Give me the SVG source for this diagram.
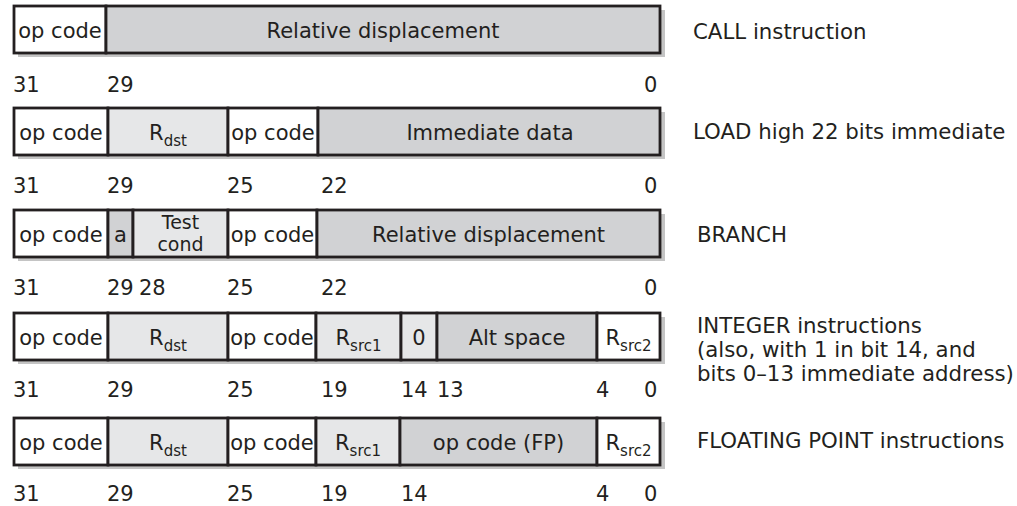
<svg xmlns="http://www.w3.org/2000/svg" width="1017" height="506" viewBox="0 0 1017 506">
<style>
  text { font-family: "DejaVu Sans", "Liberation Sans", sans-serif; fill: #231f20; }
  .lbl { font-size: 21px; text-anchor: middle; }
  .tc { font-size: 19px; text-anchor: middle; }
  .num { font-size: 21px; }
  .desc { font-size: 21.3px; }
  .sub { font-size: 15px; }
  .shadow { fill: #c4c4c4; }
  .f { stroke: #231f20; stroke-width: 2.8; }
  .w { fill: #ffffff; }
  .l { fill: #e6e7e8; }
  .m { fill: #d1d2d4; }
</style>
<rect width="1017" height="506" fill="#ffffff"/>

<g id="call">
  <rect class="shadow" x="18" y="10" width="647" height="47"/>
  <rect class="f w" x="14" y="6" width="92" height="47"/>
  <rect class="f m" x="106" y="6" width="554" height="47"/>
  <text class="lbl" x="60" y="38">op code</text>
  <text class="lbl" x="383" y="38">Relative displacement</text>
  <text class="num" x="13" y="92">31</text>
  <text class="num" x="107" y="92">29</text>
  <text class="num" x="644" y="92">0</text>
  <text class="desc" x="693" y="39">CALL instruction</text>
</g>

<g id="load">
  <rect class="shadow" x="18" y="112" width="647" height="47"/>
  <rect class="f w" x="14" y="108" width="94" height="47"/>
  <rect class="f l" x="108" y="108" width="120" height="47"/>
  <rect class="f w" x="228" y="108" width="90" height="47"/>
  <rect class="f m" x="318" y="108" width="342" height="47"/>
  <text class="lbl" x="61" y="140">op code</text>
  <text class="lbl" x="168" y="140">R<tspan class="sub" dy="6">dst</tspan></text>
  <text class="lbl" x="273" y="140">op code</text>
  <text class="lbl" x="490" y="140">Immediate data</text>
  <text class="num" x="13" y="193">31</text>
  <text class="num" x="107" y="193">29</text>
  <text class="num" x="227" y="193">25</text>
  <text class="num" x="321" y="193">22</text>
  <text class="num" x="644" y="193">0</text>
  <text class="desc" x="693" y="139">LOAD high 22 bits immediate</text>
</g>

<g id="branch">
  <rect class="shadow" x="18" y="214" width="647" height="47"/>
  <rect class="f w" x="14" y="210" width="94" height="47"/>
  <rect class="f m" x="108" y="210" width="25" height="47"/>
  <rect class="f l" x="133" y="210" width="95" height="47"/>
  <rect class="f w" x="228" y="210" width="89" height="47"/>
  <rect class="f m" x="317" y="210" width="343" height="47"/>
  <text class="lbl" x="61" y="242">op code</text>
  <text class="lbl" x="120.5" y="242">a</text>
  <text class="tc" x="180.5" y="229">Test</text>
  <text class="tc" x="180.5" y="251">cond</text>
  <text class="lbl" x="272.5" y="242">op code</text>
  <text class="lbl" x="488.5" y="242">Relative displacement</text>
  <text class="num" x="13" y="295">31</text>
  <text class="num" x="107" y="295">29</text>
  <text class="num" x="139" y="295">28</text>
  <text class="num" x="227" y="295">25</text>
  <text class="num" x="321" y="295">22</text>
  <text class="num" x="644" y="295">0</text>
  <text class="desc" x="697" y="242">BRANCH</text>
</g>

<g id="integer">
  <rect class="shadow" x="18" y="317" width="647" height="47"/>
  <rect class="f w" x="14" y="313" width="94" height="47"/>
  <rect class="f l" x="108" y="313" width="120" height="47"/>
  <rect class="f w" x="228" y="313" width="88" height="47"/>
  <rect class="f l" x="316" y="313" width="85" height="47"/>
  <rect class="f l" x="401" y="313" width="36" height="47"/>
  <rect class="f m" x="437" y="313" width="160" height="47"/>
  <rect class="f w" x="597" y="313" width="63" height="47"/>
  <text class="lbl" x="61" y="345">op code</text>
  <text class="lbl" x="168" y="345">R<tspan class="sub" dy="6">dst</tspan></text>
  <text class="lbl" x="272" y="345">op code</text>
  <text class="lbl" x="358.5" y="345">R<tspan class="sub" dy="6">src1</tspan></text>
  <text class="lbl" x="419" y="345">0</text>
  <text class="lbl" x="517" y="345">Alt space</text>
  <text class="lbl" x="628.5" y="345">R<tspan class="sub" dy="6">src2</tspan></text>
  <text class="num" x="13" y="397">31</text>
  <text class="num" x="107" y="397">29</text>
  <text class="num" x="227" y="397">25</text>
  <text class="num" x="321" y="397">19</text>
  <text class="num" x="401" y="397">14</text>
  <text class="num" x="437" y="397">13</text>
  <text class="num" x="596" y="397">4</text>
  <text class="num" x="644" y="397">0</text>
  <text class="desc" x="697" y="333">INTEGER instructions</text>
  <text class="desc" x="697" y="357">(also, with 1 in bit 14, and</text>
  <text class="desc" x="697" y="381">bits 0–13 immediate address)</text>
</g>

<g id="floating-point">
  <rect class="shadow" x="18" y="422" width="647" height="47"/>
  <rect class="f w" x="14" y="418" width="94" height="47"/>
  <rect class="f l" x="108" y="418" width="120" height="47"/>
  <rect class="f w" x="228" y="418" width="88" height="47"/>
  <rect class="f l" x="316" y="418" width="84" height="47"/>
  <rect class="f m" x="400" y="418" width="197" height="47"/>
  <rect class="f w" x="597" y="418" width="63" height="47"/>
  <text class="lbl" x="61" y="450">op code</text>
  <text class="lbl" x="168" y="450">R<tspan class="sub" dy="6">dst</tspan></text>
  <text class="lbl" x="272" y="450">op code</text>
  <text class="lbl" x="358" y="450">R<tspan class="sub" dy="6">src1</tspan></text>
  <text class="lbl" x="498.5" y="450">op code (FP)</text>
  <text class="lbl" x="628.5" y="450">R<tspan class="sub" dy="6">src2</tspan></text>
  <text class="num" x="13" y="501">31</text>
  <text class="num" x="107" y="501">29</text>
  <text class="num" x="227" y="501">25</text>
  <text class="num" x="321" y="501">19</text>
  <text class="num" x="401" y="501">14</text>
  <text class="num" x="596" y="501">4</text>
  <text class="num" x="644" y="501">0</text>
  <text class="desc" x="697" y="448">FLOATING POINT instructions</text>
</g>
</svg>
